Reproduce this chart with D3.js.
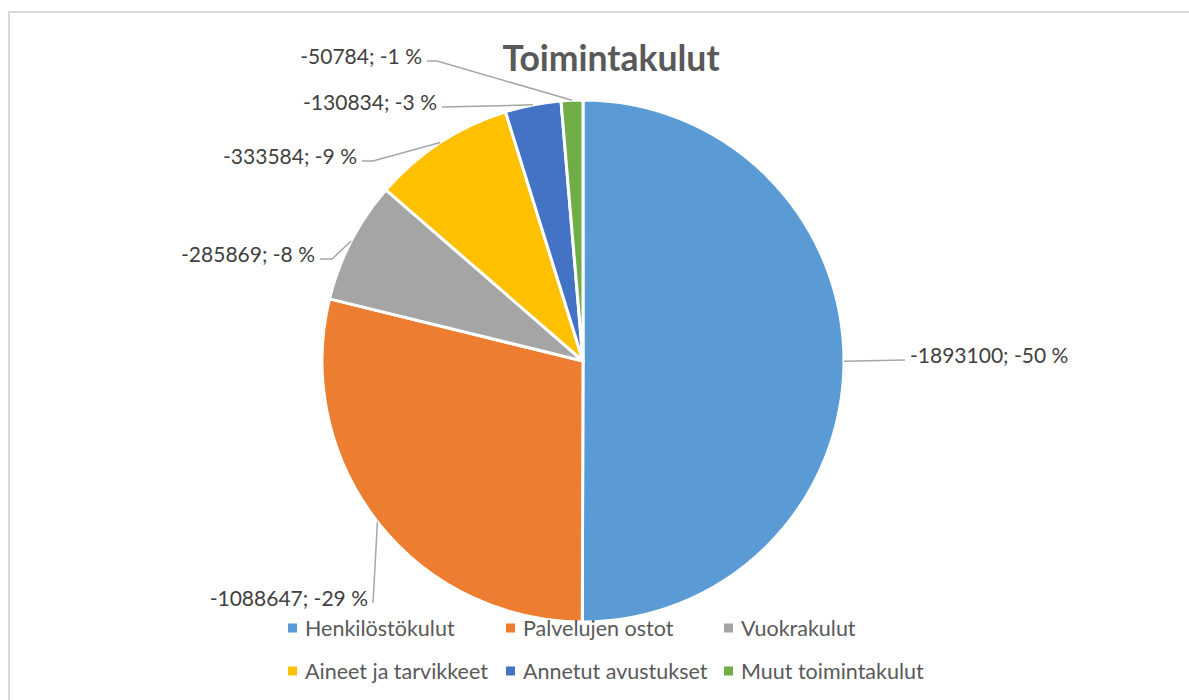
<!DOCTYPE html>
<html>
<head>
<meta charset="utf-8">
<script src="https://cdn.jsdelivr.net/npm/d3@7"></script>
<style>
  html, body { margin: 0; padding: 0; background: #fff; }
  svg { display: block; font-family: Lato, "Open Sans", sans-serif; }
</style>
</head>
<body>
<svg id="chart" width="1189" height="700"></svg>
<script>
// chart data
const categories = ['Henkilöstökulut', 'Palvelujen ostot', 'Vuokrakulut',
                    'Aineet ja tarvikkeet', 'Annetut avustukset', 'Muut toimintakulut'];
const values = [-1893100, -1088647, -285869, -333584, -130834, -50784];
const colors = ['#5B9BD5', '#ED7D31', '#A5A5A5', '#FFC000', '#4472C4', '#70AD47'];

// where Excel put each data label (text edge x, text middle y)
const labelPos = [
    { x: 910, y: 354, anchor: 'start', elbow: 0 },
    { x: 368, y: 597, anchor: 'end', elbow: 0 },
    { x: 315, y: 253, anchor: 'end', elbow: 12 },
    { x: 357, y: 155, anchor: 'end', elbow: 11 },
    { x: 437, y: 101, anchor: 'end', elbow: 0 },
    { x: 422, y: 55, anchor: 'end', elbow: 10 }
];

const svg = d3.select('#chart');
const cx = 583, cy = 361, radius = 261;

// chart area border
svg.append('rect')
    .attr('x', 9).attr('y', 12)
    .attr('width', 1185).attr('height', 720)
    .attr('fill', '#fff')
    .attr('stroke', '#d9d9d9')
    .attr('stroke-width', 2);

// title
svg.append('text')
    .attr('x', 611).attr('y', 57)
    .attr('text-anchor', 'middle')
    .attr('dominant-baseline', 'central')
    .attr('font-size', 35.5)
    .attr('font-weight', 'bold')
    .attr('fill', '#595959')
    .text('Toimintakulut');

const total = d3.sum(values, v => Math.abs(v));
const pie = d3.pie().sort(null).value(d => Math.abs(d.value));
const arcs = pie(categories.map((c, i) => ({ name: c, value: values[i], color: colors[i] })));

const arc = d3.arc().innerRadius(0).outerRadius(radius);
const edge = d3.arc().innerRadius(radius).outerRadius(radius);

const g = svg.append('g').attr('transform', `translate(${cx},${cy})`);
g.selectAll('path.slice')
    .data(arcs)
    .enter()
    .append('path')
    .attr('class', 'slice')
    .attr('d', arc)
    .attr('fill', d => d.data.color)
    .attr('stroke', '#fff')
    .attr('stroke-width', 3)
    .attr('stroke-linejoin', 'round');

// leader lines + labels
const fmtPct = v => `${Math.round(v / total * 100)} %`;
arcs.forEach((d, i) => {
    const p = labelPos[i];
    const [ex, ey] = edge.centroid(d);
    const dir = p.anchor === 'start' ? -1 : 1;
    const endX = p.x + dir * 5;
    const endY = p.y + 6;
    const pts = [[cx + ex, cy + ey]];
    if (p.elbow) pts.push([endX + dir * p.elbow, endY]);
    pts.push([endX, endY]);

    svg.append('path')
        .attr('d', d3.line()(pts))
        .attr('fill', 'none')
        .attr('stroke', '#a6a6a6')
        .attr('stroke-width', 1.5);

    svg.append('text')
        .attr('x', p.x).attr('y', p.y)
        .attr('text-anchor', p.anchor)
        .attr('dominant-baseline', 'central')
        .attr('font-size', 21)
        .attr('fill', '#404040')
        .text(`${d.data.value}; ${fmtPct(d.data.value)}`);
});

// legend, 3 columns x 2 rows
const colX = d3.scalePoint().domain([0, 1, 2]).range([288, 724]);
const rowY = d3.scalePoint().domain([0, 1]).range([628, 671]);
const legend = svg.append('g');
categories.forEach((c, i) => {
    const x = colX(i % 3), y = rowY(Math.floor(i / 3));
    legend.append('rect')
        .attr('x', x).attr('y', y - 4.5)
        .attr('width', 9).attr('height', 9)
        .attr('fill', colors[i]);
    legend.append('text')
        .attr('x', x + 17).attr('y', y)
        .attr('dominant-baseline', 'central')
        .attr('font-size', 21.5)
        .attr('fill', '#595959')
        .text(c);
});
</script>
</body>
</html>
